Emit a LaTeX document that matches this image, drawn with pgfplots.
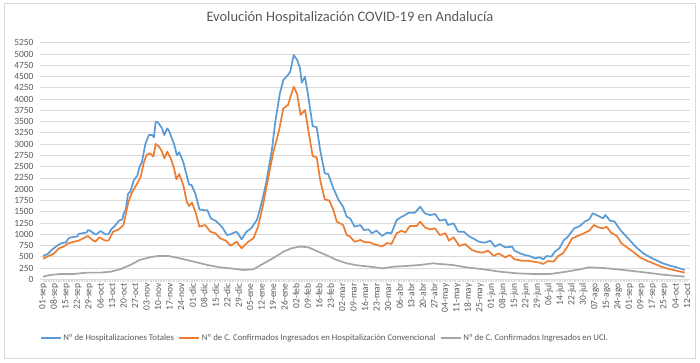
\documentclass[border=0pt]{standalone}
\usepackage{pgfplots}
\pgfplotsset{compat=1.18}
\usepackage{fontspec}
\setmainfont{Carlito}
\definecolor{cblue}{HTML}{5B9BD5}
\definecolor{corange}{HTML}{ED7D31}
\definecolor{cgray}{HTML}{A5A5A5}
\definecolor{gridgray}{HTML}{D9D9D9}
\definecolor{txt}{HTML}{595959}
\begin{document}
\begin{tikzpicture}[x=1bp,y=1bp]
\path[use as bounding box] (0,0) rectangle (700,362);
\draw[gridgray, line width=0.8bp] (4.5,3.5) rectangle (695.5,358.5);
\node[text=txt, font=\fontsize{14.5}{16}\selectfont] at (350,344) {Evolución Hospitalización COVID-19 en Andalucía};
\begin{axis}[
  at={(40bp,82.7bp)}, anchor=south west,
  scale only axis, width=650bp, height=236.6bp,
  xmin=-0.26, xmax=56.26, ymin=0, ymax=5250,
  xtick={0,...,56},
  xticklabels={01-sep,08-sep,15-sep,22-sep,29-sep,06-oct,13-oct,20-oct,27-oct,03-nov,10-nov,17-nov,24-nov,01-dic,08-dic,15-dic,22-dic,29-dic,05-ene,12-ene,19-ene,26-ene,02-feb,09-feb,16-feb,23-feb,02-mar,09-mar,16-mar,23-mar,30-mar,06-abr,13-abr,20-abr,27-abr,04-may,11-may,18-may,25-may,01-jun,08-jun,15-jun,22-jun,29-jun,06-jul,14-jul,22-jul,30-jul,07-ago,15-ago,24-ago,01-sep,09-sep,17-sep,25-sep,04-oct,12-oct},
  x tick label style={rotate=90, anchor=east, font=\fontsize{9.5}{11}\selectfont, text=txt, inner sep=1bp},
  ytick distance=250,
  y tick label style={font=\fontsize{9.5}{11}\selectfont, text=txt},
  /pgf/number format/assume math mode=true,
  /pgf/number format/1000 sep={},
  axis lines*=left,
  y axis line style={draw=none},
  x axis line style={draw=gridgray, line width=0.8bp},
  ytick style={draw=none},
  xtick style={draw=gridgray},
  minor x tick num=6,
  tick align=outside,
  major tick length=3bp, minor tick length=3bp,
  ymajorgrids, grid style={gridgray, line width=0.8bp},
  clip=false,
  legend style={draw=none, at={(0.438,-0.248)}, anchor=center, legend columns=3,
    font=\fontsize{8.8}{10}\selectfont, text=txt,
    /tikz/every even column/.append style={column sep=3bp},
    nodes={inner sep=1.5bp}},
  legend image code/.code={\draw[#1, line width=2bp] (0bp,0bp) -- (20bp,0bp);},
]
\addplot[cblue, line width=1.7bp, line join=round] coordinates {
(0,518)(0.4,560)(0.7,640)(1.0,700)(1.3,760)(1.6,800)(2.0,820)(2.2,900)(2.4,930)(2.8,945)(3.0,950)(3.1,1010)(3.4,1020)(3.8,1040)(3.9,1090)(4.1,1080)(4.4,1020)(4.6,990)(5.0,1070)(5.2,1040)(5.4,1000)(5.7,1000)(5.9,1100)(6.3,1200)(6.6,1300)(6.9,1330)(7.0,1450)(7.2,1550)(7.4,1900)(7.6,1950)(7.9,2200)(8.2,2300)(8.4,2500)(8.6,2600)(8.9,3000)(9.2,3200)(9.5,3200)(9.65,3150)(9.8,3500)(10.0,3480)(10.35,3350)(10.55,3200)(10.8,3350)(10.95,3300)(11.4,3000)(11.65,2750)(11.85,2820)(12.2,2600)(12.5,2300)(12.7,2100)(12.9,2100)(13.25,1900)(13.6,1550)(14.1,1530)(14.3,1530)(14.6,1350)(15.0,1300)(15.3,1230)(15.6,1150)(16.0,980)(16.3,1000)(16.8,1057)(17.0,1000)(17.27,888)(17.7,1057)(18.1,1131)(18.6,1316)(19.0,1686)(19.4,2130)(19.9,2869)(20.2,3497)(20.6,4127)(20.9,4422)(21.3,4533)(21.5,4607)(21.8,4977)(22.1,4866)(22.35,4681)(22.5,4363)(22.78,4496)(23.07,4052)(23.45,3402)(23.8,3372)(24.1,2869)(24.5,2352)(24.8,2337)(25.25,2019)(25.7,1760)(26.1,1611)(26.4,1389)(26.7,1352)(27.1,1167)(27.6,1204)(27.9,1093)(28.3,1108)(28.6,1021)(29.0,1080)(29.5,962)(29.9,1035)(30.3,1021)(30.75,1316)(31.2,1389)(31.5,1426)(31.8,1478)(32.35,1478)(32.8,1611)(33.2,1463)(33.65,1426)(34.1,1448)(34.5,1300)(35.0,1330)(35.2,1205)(35.7,1242)(36.1,1056)(36.6,1056)(37.0,961)(37.4,907)(37.9,834)(38.4,812)(38.9,857)(39.3,723)(39.7,782)(40.2,708)(40.8,723)(41.0,635)(41.5,575)(41.9,539)(42.3,517)(42.8,466)(43.2,488)(43.5,444)(43.8,517)(44.2,502)(44.5,613)(44.9,688)(45.3,872)(45.6,932)(45.9,1034)(46.2,1132)(46.7,1183)(47.1,1280)(47.5,1331)(47.8,1465)(48.3,1406)(48.7,1353)(48.9,1428)(49.3,1302)(49.7,1280)(50.2,1094)(50.6,983)(51.0,872)(51.6,708)(52.2,575)(52.8,488)(53.4,413)(53.9,355)(54.5,303)(55.1,266)(55.8,207)
};
\addlegendentry{Nº de Hospitalizaciones Totales}
\addplot[corange, line width=1.7bp, line join=round] coordinates {
(0,458)(0.5,518)(0.9,562)(1.4,688)(1.8,725)(2.2,798)(2.7,835)(3.1,858)(3.5,909)(3.9,961)(4.3,872)(4.55,835)(4.9,932)(5.4,858)(5.7,858)(6.1,1057)(6.6,1109)(7.0,1205)(7.4,1686)(7.7,1908)(8.2,2129)(8.5,2277)(8.75,2573)(9.0,2758)(9.3,2795)(9.6,2721)(9.8,3002)(10.1,2943)(10.35,2832)(10.55,2684)(10.8,2832)(11.1,2684)(11.4,2462)(11.6,2218)(11.85,2336)(12.2,2092)(12.5,1723)(12.7,1627)(12.95,1700)(13.25,1501)(13.6,1168)(14.1,1205)(14.55,1057)(15.0,1020)(15.4,909)(15.9,858)(16.3,746)(16.84,834)(17.27,688)(17.85,834)(18.3,910)(18.7,1167)(19.1,1611)(19.55,2203)(20.0,2796)(20.5,3275)(20.9,3795)(21.3,3868)(21.8,4274)(22.1,4110)(22.4,3646)(22.78,3757)(23.07,3313)(23.45,2736)(23.8,2707)(24.1,2203)(24.5,1775)(24.9,1746)(25.25,1538)(25.55,1278)(26.1,1204)(26.4,983)(26.7,946)(27.1,834)(27.6,872)(28.0,820)(28.4,820)(28.9,768)(29.5,730)(29.9,805)(30.3,783)(30.75,1021)(31.2,1080)(31.5,1035)(31.9,1182)(32.5,1182)(32.8,1278)(33.2,1152)(33.65,1108)(34.1,1130)(34.5,983)(35.0,1020)(35.3,857)(35.7,932)(36.2,739)(36.7,782)(37.3,650)(37.7,613)(38.2,591)(38.7,635)(39.2,517)(39.6,575)(40.2,488)(40.6,539)(41.0,444)(41.6,413)(42.1,413)(42.6,392)(43.2,370)(43.5,340)(43.9,406)(44.4,392)(44.8,517)(45.2,575)(45.6,723)(46.0,907)(46.5,961)(46.9,1005)(47.5,1079)(47.9,1205)(48.3,1153)(48.7,1131)(49.0,1168)(49.4,1034)(49.9,961)(50.3,797)(50.7,723)(51.3,613)(51.9,488)(52.5,413)(53.2,340)(53.9,266)(54.8,207)(55.8,148)
};
\addlegendentry{Nº de C. Confirmados Ingresados en Hospitalización Convencional}
\addplot[cgray, line width=1.7bp, line join=round] coordinates {
(0,59)(0.64,96)(1.5,118)(2.7,118)(3.8,148)(5.0,148)(5.9,170)(6.7,222)(7.6,318)(8.4,429)(9.3,488)(10.0,518)(10.9,518)(11.9,466)(13.1,392)(14.3,318)(15.4,266)(16.26,244)(17.4,207)(18.3,222)(19.1,340)(20.0,466)(20.9,613)(21.6,688)(22.35,725)(23.07,710)(23.8,628)(24.6,540)(25.55,428)(26.4,355)(27.3,311)(28.4,281)(29.5,244)(30.5,281)(31.6,296)(32.8,318)(33.9,355)(34.5,340)(35.6,318)(36.8,266)(38.3,222)(39.7,170)(41.2,133)(42.6,118)(44.1,118)(45.5,170)(46.7,222)(47.5,266)(48.7,251)(49.9,222)(51.0,192)(52.5,148)(53.9,103)(55.8,59)
};
\addlegendentry{Nº de C. Confirmados Ingresados en UCI.}
\end{axis}
\end{tikzpicture}
\end{document}
